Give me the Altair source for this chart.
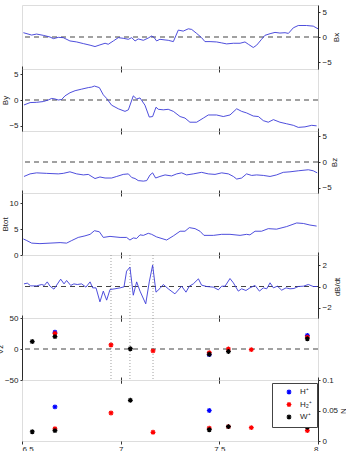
import altair as alt
import pandas as pd

# ---------------- data ----------------
bx_t = [6.507, 6.549, 6.574, 6.608, 6.642, 6.659, 6.684, 6.709, 6.743, 6.777, 6.811, 6.845, 6.870, 6.895,
        6.921, 6.937, 6.963, 6.988, 7.013, 7.039, 7.056, 7.073, 7.089, 7.115, 7.140, 7.157, 7.169, 7.182,
        7.199, 7.225, 7.241, 7.267, 7.292, 7.317, 7.343, 7.360, 7.385, 7.410, 7.427, 7.453, 7.486, 7.512,
        7.537, 7.571, 7.605, 7.630, 7.647, 7.672, 7.689, 7.714, 7.731, 7.757, 7.782, 7.807, 7.833, 7.850,
        7.875, 7.900, 7.942, 7.976, 8.000]
bx_v = [0.86, 0.39, 0.59, 0.33, 0.0, -0.33, -0.07, -0.13, -0.79, -0.99, -1.32, -1.64, -1.91, -1.58,
        -1.25, -1.45, -0.79, -0.13, -0.26, -0.46, -0.13, -0.79, -0.39, -0.66, -0.2, 0.2, -0.07, -0.79,
        -0.46, -0.59, -0.66, -0.92, 1.38, 1.18, 1.64, 1.51, 0.72, -0.13, -0.92, -0.92, -0.99, -1.18,
        -1.38, -1.25, -1.25, -0.99, -1.45, -2.1, -1.64, -0.46, 0.33, 0.66, 0.92, 0.79, 0.86, 0.72,
        1.84, 2.3, 2.3, 2.17, 1.64]

by_t = [6.510, 6.541, 6.574, 6.608, 6.633, 6.650, 6.667, 6.684, 6.701, 6.718, 6.743, 6.769, 6.802, 6.836,
        6.853, 6.867, 6.892, 6.912, 6.929, 6.954, 6.988, 7.022, 7.039, 7.064, 7.081, 7.098, 7.123, 7.145,
        7.162, 7.179, 7.191, 7.216, 7.241, 7.267, 7.301, 7.326, 7.351, 7.385, 7.419, 7.444, 7.486, 7.520,
        7.554, 7.588, 7.613, 7.638, 7.672, 7.698, 7.723, 7.748, 7.774, 7.807, 7.841, 7.875, 7.900, 7.934,
        7.968, 7.993]
by_v = [-0.96, -0.5, -0.45, -0.3, 0.0, 0.3, 0.2, 0.0, 0.1, 0.8, 1.4, 1.8, 2.1, 2.4,
        2.5, 2.7, 2.4, 1.0, 0.3, -1.0, -1.7, -2.2, -1.9, 0.8, 0.2, 0.4, -1.0, -3.3,
        -3.2, -1.4, -1.8, -1.9, -1.8, -2.2, -3.2, -3.5, -4.3, -4.3, -3.5, -2.9, -2.9, -3.2,
        -2.9, -1.7, -2.2, -2.5, -3.1, -3.2, -4.0, -4.3, -3.8, -4.3, -4.6, -4.9, -5.3, -5.2,
        -4.9, -5.0]

bz_t = [6.510, 6.541, 6.574, 6.625, 6.684, 6.709, 6.743, 6.777, 6.811, 6.836, 6.870, 6.895, 6.921, 6.954,
        6.980, 7.013, 7.039, 7.056, 7.073, 7.089, 7.115, 7.132, 7.149, 7.162, 7.177, 7.199, 7.225, 7.258,
        7.284, 7.309, 7.334, 7.368, 7.410, 7.444, 7.478, 7.512, 7.546, 7.571, 7.588, 7.613, 7.638, 7.664,
        7.689, 7.723, 7.757, 7.790, 7.824, 7.858, 7.900, 7.951, 7.976, 7.996]
bz_v = [-2.8, -2.3, -2.1, -2.2, -2.3, -2.2, -1.9, -2.3, -2.5, -2.4, -3.2, -2.9, -3.1, -3.1,
        -2.8, -2.4, -2.3, -3.0, -3.2, -3.6, -3.7, -3.6, -2.5, -2.1, -3.1, -2.8, -2.5, -2.7,
        -2.3, -2.1, -2.5, -2.3, -2.0, -2.3, -2.4, -2.1, -2.3, -2.8, -3.3, -3.1, -2.3, -2.6,
        -2.5, -2.6, -2.8, -2.5, -2.0, -1.9, -1.7, -1.5, -1.7, -2.1]

bt_t = [6.507, 6.524, 6.549, 6.591, 6.642, 6.693, 6.726, 6.752, 6.785, 6.819, 6.845, 6.867, 6.892, 6.912,
        6.946, 6.997, 7.030, 7.047, 7.064, 7.081, 7.098, 7.115, 7.140, 7.157, 7.182, 7.233, 7.267, 7.301,
        7.326, 7.348, 7.377, 7.402, 7.422, 7.470, 7.512, 7.554, 7.605, 7.638, 7.655, 7.681, 7.714, 7.748,
        7.790, 7.841, 7.892, 7.926, 7.959, 7.993]
bt_v = [3.1, 2.8, 2.3, 2.2, 2.3, 2.4, 2.3, 2.8, 3.4, 3.7, 4.0, 4.7, 4.5, 3.4,
        3.6, 3.4, 3.4, 2.9, 3.3, 3.2, 3.9, 3.8, 4.2, 4.0, 3.5, 2.9, 3.7, 4.6,
        4.6, 5.3, 5.1, 4.6, 3.8, 3.8, 4.0, 4.0, 3.8, 4.0, 3.9, 4.6, 4.6, 5.1,
        5.0, 5.5, 6.2, 6.1, 5.8, 5.6]

db_t = [6.510, 6.527, 6.544, 6.574, 6.600, 6.613, 6.628, 6.642, 6.662, 6.696, 6.713, 6.726, 6.747, 6.763,
        6.780, 6.802, 6.824, 6.845, 6.858, 6.875, 6.895, 6.912, 6.929, 6.946, 6.971, 6.997, 7.017, 7.030,
        7.047, 7.064, 7.081, 7.098, 7.127, 7.145, 7.162, 7.179, 7.199, 7.216, 7.241, 7.275, 7.309, 7.331,
        7.348, 7.368, 7.394, 7.410, 7.436, 7.470, 7.495, 7.512, 7.529, 7.554, 7.571, 7.596, 7.613, 7.635,
        7.655, 7.681, 7.703, 7.723, 7.740, 7.757, 7.774, 7.794, 7.816, 7.838, 7.858, 7.878, 7.900, 7.926,
        7.951, 7.976, 7.996]
db_v = [0.25, 0.32, 0.06, 0.06, 0.19, 0.1, 0.44, 0.03, -0.25, 0.7, 0.25, 0.57, 0.1, 0.25,
        0.19, 0.25, -0.06, 0.44, -0.13, -0.13, -1.46, -0.44, -1.3, -0.29, -0.22, -0.13, -0.03, 1.46,
        1.84, -0.83, 0.44, -0.44, -1.65, 0.44, 2.03, -0.54, -0.19, 0.19, -0.22, -0.7, 0.03, -0.54,
        0.03, 0.25, 0.73, 0.13, 0.0, -0.06, -0.32, 0.03, 0.03, 0.76, 0.35, -0.44, -0.22, -0.38,
        -0.13, 0.1, -0.44, -0.13, -0.22, 0.35, -0.13, 0.03, -0.35, -0.13, -0.22, -0.19, 0.0, 0.03,
        0.19, 0.0, 0.0]

event_t = [6.951, 7.047, 7.164]

species = ["H⁺", "H₂⁺", "W⁺"]
species_colors = ["#0000ff", "#ff0000", "#000000"]

hp_t = [6.667, 7.449, 7.946]
hp_vz = [27, -9, 22]
hp_n = [0.056, 0.050, 0.045]

h2_t = [6.667, 6.951, 7.164, 7.449, 7.546, 7.662, 7.946]
h2_vz = [25, 6.5, -3, -6, 0, -1, 19]
h2_n = [0.020, 0.046, 0.0143, 0.021, 0.0235, 0.022, 0.017]

wp_t = [6.552, 6.667, 7.049, 7.449, 7.546, 7.946]
wp_vz = [12, 20, 0.5, -8.5, -4, 16.5]
wp_n = [0.0152, 0.017, 0.0667, 0.0185, 0.0235, 0.0225]

# ---------------- styling helpers ----------------
FONT = "Liberation Sans"
LINE_COLOR = "#3a3ad8"
TXT = "#222222"
FRAME = "#2a2a2a"
X_DOMAIN = [6.5, 8.0]
X_TICKS = [6.5, 7.0, 7.5, 8.0]
W = 296
STAR = "M-1,0L1,0M0,-1L0,1M-0.72,-0.72L0.72,0.72M-0.72,0.72L0.72,-0.72"
XS = alt.Scale(domain=X_DOMAIN, nice=False, zero=False)


def x_axis(orient, labels):
    return alt.Axis(orient=orient, values=X_TICKS, labels=labels, format="~r",
                    ticks=True, tickSize=3, tickColor="#333", domain=False,
                    grid=False, title=None, labelFontSize=8, labelPadding=1,
                    labelColor=TXT, labelFont=FONT)


def y_axis(orient, ticks, title, title_x, h):
    return alt.Axis(orient=orient, values=ticks, format="~r", title=title, titleAngle=270,
                    titleX=title_x, titleY=h / 2, titleAlign="center", titleBaseline="middle",
                    titleFontSize=8, titleFontWeight="normal", titleColor=TXT, titleFont=FONT,
                    labelFontSize=8, labelColor=TXT, labelFont=FONT, labelPadding=2,
                    tickSize=2, tickColor="#333", domain=True, domainColor=FRAME,
                    domainWidth=1, grid=False)


def ys(dom):
    return alt.Scale(domain=dom, nice=False, zero=False)


def panel(main_df, yfield, dom, ticks, title, orient, title_x, h, kind,
          zero=True, events=False, top=True, labels=False, legend=None):
    yax = y_axis(orient, ticks, title, title_x, h)
    yenc = alt.Y(f"{yfield}:Q", scale=ys(dom), axis=yax)
    layers = []
    if events:
        layers.append(alt.Chart(pd.DataFrame({"t": event_t})).mark_rule(
            color="#888", strokeDash=[1, 2], strokeWidth=0.8
        ).encode(x=alt.X("t:Q", scale=XS, axis=x_axis("bottom", labels))))
    if zero:
        layers.append(alt.Chart(pd.DataFrame({yfield: [0]})).mark_rule(
            color="#444", strokeDash=[5, 4], strokeWidth=1.1
        ).encode(y=yenc))
    if kind == "line":
        layers.append(alt.Chart(main_df).mark_line(color=LINE_COLOR, strokeWidth=0.9, clip=True).encode(
            x=alt.X("t:Q", scale=XS, axis=x_axis("bottom", labels)), y=yenc))
    else:
        layers.append(alt.Chart(main_df).mark_point(shape=STAR, filled=False, size=24, strokeWidth=1.2,
                                                     opacity=1, clip=True).encode(
            x=alt.X("t:Q", scale=XS, axis=x_axis("bottom", labels)), y=yenc,
            color=alt.Color("sp:N", scale=color_scale, legend=legend)))
    if top:
        layers.append(alt.Chart(main_df).mark_point(opacity=0).encode(
            x=alt.X("t:Q", scale=XS, axis=x_axis("top", False)), y=yenc))
    return alt.layer(*layers).resolve_axis(x="independent").properties(width=W, height=h)


pts = pd.DataFrame({
    "sp": ["H⁺"] * len(hp_t) + ["H₂⁺"] * len(h2_t) + ["W⁺"] * len(wp_t),
    "t": hp_t + h2_t + wp_t,
    "vz": hp_vz + h2_vz + wp_vz,
    "n": hp_n + h2_n + wp_n,
})

color_scale = alt.Scale(domain=species, range=species_colors)

legend = alt.Legend(title=None, orient="none", legendX=250, legendY=3, direction="vertical",
                    fillColor="white", strokeColor="#444", padding=5, labelFontSize=8,
                    labelColor=TXT, labelFont=FONT, symbolType=STAR, symbolSize=24,
                    symbolStrokeWidth=1.2, rowPadding=2.5, symbolOffset=8, labelOffset=7)

p1 = panel(pd.DataFrame({"t": bx_t, "v": bx_v}), "v", [-6.4, 6.4], [-5, 0, 5], "Bx", "right", 18, 64,
           "line", top=False)
p2 = panel(pd.DataFrame({"t": by_t, "v": by_v}), "v", [-6, 6], [-5, 0, 5], "By", "left", -17, 62, "line")
p3 = panel(pd.DataFrame({"t": bz_t, "v": bz_v}), "v", [-6, 6], [-5, 0, 5], "Bz", "right", 16, 62, "line")
p4 = panel(pd.DataFrame({"t": bt_t, "v": bt_v}), "v", [0, 12], [0, 5, 10], "Btot", "left", -17, 62, "line",
           zero=False)
p5 = panel(pd.DataFrame({"t": db_t, "v": db_v}), "v", [-3, 3], [-2, 0, 2], "dB/dt", "right", 19, 63, "line",
           events=True)
p6 = panel(pts, "vz", [-50, 50], [-50, 0, 50], "Vz", "left", -22, 62, "point", events=True)
p7 = panel(pts, "n", [0, 0.1], [0, 0.05, 0.1], "N", "right", 25, 61, "point", zero=False, labels=True,
           legend=legend)

# autosize "none": the concat reports a 296-wide, 0-high view, so the padding sets the page size
chart = alt.vconcat(p1, p2, p3, p4, p5, p6, p7, spacing=0, bounds="flush").resolve_scale(
    color="independent").resolve_legend(color="independent").properties(
    autosize=alt.AutoSizeParams(type="none"),
    padding={"left": 22, "top": 5, "right": 28, "bottom": 446}
).configure_view(stroke=FRAME, strokeWidth=1.3).configure(font=FONT, background="white")

chart.save("out.html", embed_options={"renderer": "svg", "actions": False})
